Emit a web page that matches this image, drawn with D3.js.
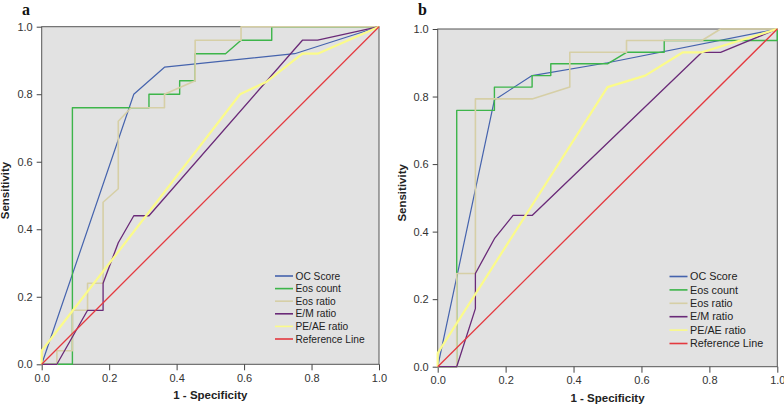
<!DOCTYPE html>
<html>
<head>
<meta charset="utf-8">
<script src="https://cdn.jsdelivr.net/npm/d3@7"></script>
<style>
  body { margin: 0; background: #fff; }
  svg text { font-family: "Liberation Sans", Arial, sans-serif; }
</style>
</head>
<body>
<svg id="chart" width="784" height="406"></svg>
<script>
// tick values shared by both panels
const tickValues = [0, 0.2, 0.4, 0.6, 0.8, 1.0];
const seriesNames = ['OC Score', 'Eos count', 'Eos ratio', 'E/M ratio', 'PE/AE ratio', 'Reference Line'];
const seriesColors = ['#4563ad', '#3db54a', '#d6cfa6', '#6a2a78', '#fbfb8a', '#e4393f'];
const seriesWidths = [1.2, 1.4, 1.6, 1.3, 2.2, 1.3];

// panel a: [1 - specificity, sensitivity]
const aOcScore = [[0, 0], [0.273, 0.80], [0.364, 0.88], [0.75, 0.92], [1, 1]];
const aEosCount = [[0, 0], [0.091, 0], [0.091, 0.76], [0.318, 0.76], [0.318, 0.80], [0.409, 0.80], [0.409, 0.84],
  [0.455, 0.84], [0.455, 0.92], [0.545, 0.92], [0.591, 0.96], [0.682, 0.96], [0.682, 1], [1, 1]];
const aEosRatio = [[0, 0], [0.045, 0], [0.045, 0.04], [0.091, 0.04], [0.091, 0.16], [0.136, 0.16], [0.136, 0.24],
  [0.182, 0.24], [0.182, 0.48], [0.227, 0.52], [0.227, 0.72], [0.265, 0.76], [0.364, 0.76], [0.364, 0.80],
  [0.455, 0.84], [0.455, 0.96], [0.591, 0.96], [0.591, 1], [1, 1]];
const aEmRatio = [[0, 0], [0.045, 0], [0.136, 0.16], [0.182, 0.16], [0.182, 0.24], [0.227, 0.36], [0.273, 0.44],
  [0.318, 0.44], [0.773, 0.96], [0.818, 0.96], [1, 1]];
const aPeAeRatio = [[0, 0], [0, 0.04], [0.588, 0.80], [0.667, 0.837], [0.773, 0.92], [0.818, 0.92], [1, 1]];
const aReference = [[0, 0], [1, 1]];

// panel b
const bOcScore = [[0, 0], [0.167, 0.79], [0.278, 0.862], [0.5, 0.9], [1, 1]];
const bEosCount = [[0, 0], [0.056, 0], [0.056, 0.759], [0.167, 0.759], [0.167, 0.828], [0.278, 0.828], [0.278, 0.862],
  [0.333, 0.862], [0.333, 0.897], [0.5, 0.897], [0.556, 0.931], [0.667, 0.931], [0.667, 0.966], [1, 0.966], [1, 1]];
const bEosRatio = [[0, 0], [0.056, 0], [0.056, 0.276], [0.111, 0.276], [0.111, 0.793], [0.278, 0.793], [0.389, 0.828],
  [0.389, 0.931], [0.556, 0.931], [0.556, 0.966], [0.778, 0.966], [0.833, 1], [1, 1]];
const bEmRatio = [[0, 0], [0.056, 0], [0.111, 0.172], [0.111, 0.276], [0.167, 0.379], [0.222, 0.448], [0.278, 0.448],
  [0.778, 0.931], [0.833, 0.931], [1, 1]];
const bPeAeRatio = [[0, 0], [0, 0.04], [0.5, 0.828], [0.611, 0.862], [0.722, 0.931], [0.778, 0.931], [1, 1]];
const bReference = [[0, 0], [1, 1]];

const svg = d3.select('#chart');

function drawPanel(opts) {
  const x = d3.scaleLinear().domain([0, 1]).range([opts.left, opts.right]);
  const y = d3.scaleLinear().domain([0, 1]).range([opts.bottom, opts.top]);
  const g = svg.append('g');

  g.append('rect')
    .attr('x', opts.left)
    .attr('y', opts.top)
    .attr('width', opts.right - opts.left)
    .attr('height', opts.bottom - opts.top)
    .attr('fill', '#e2e2e2')
    .attr('stroke', '#555')
    .attr('stroke-width', 1);

  const fmt = d3.format('.1f');

  const xAxis = g.append('g')
    .attr('transform', 'translate(0,' + opts.bottom + ')')
    .call(d3.axisBottom(x).tickValues(tickValues).tickFormat(fmt).tickSize(6).tickSizeOuter(0).tickPadding(4));
  const yAxis = g.append('g')
    .attr('transform', 'translate(' + opts.left + ',0)')
    .call(d3.axisLeft(y).tickValues(tickValues).tickFormat(fmt).tickSize(5).tickSizeOuter(0).tickPadding(4));

  [xAxis, yAxis].forEach(function (a) {
    a.select('.domain').remove();
    a.selectAll('line').attr('stroke', '#444');
    a.selectAll('text')
      .attr('fill', '#333')
      .style('font-size', '11px')
      .style('font-family', '"Liberation Sans", Arial, sans-serif');
  });

  const line = d3.line()
    .x(function (d) { return x(d[0]); })
    .y(function (d) { return y(d[1]); });

  opts.series.forEach(function (s, i) {
    g.append('path')
      .datum(s)
      .attr('d', line)
      .attr('fill', 'none')
      .attr('stroke', seriesColors[i])
      .attr('stroke-width', seriesWidths[i])
      .attr('stroke-linejoin', 'round');
  });

  // legend
  const legendItems = g.selectAll('.legend')
    .data(seriesNames)
    .enter()
    .append('g')
    .attr('class', 'legend')
    .attr('transform', function (d, i) {
      return 'translate(' + opts.legendX + ',' + (opts.legendY + i * opts.legendStep) + ')';
    });

  legendItems.append('line')
    .attr('x1', 0)
    .attr('x2', 18)
    .attr('y1', 0)
    .attr('y2', 0)
    .attr('stroke', function (d, i) { return seriesColors[i]; })
    .attr('stroke-width', 1.6);

  legendItems.append('text')
    .attr('x', 20.5)
    .attr('y', 0)
    .attr('dy', '0.35em')
    .attr('fill', '#222')
    .style('font-size', opts.legendFont + 'px')
    .text(function (d) { return d; });

  // axis titles
  g.append('text')
    .attr('x', (opts.left + opts.right) / 2)
    .attr('y', opts.bottom + 35)
    .attr('text-anchor', 'middle')
    .attr('fill', '#222')
    .style('font-size', '11.5px')
    .style('font-weight', 'bold')
    .text('1 - Specificity');

  g.append('text')
    .attr('transform', 'translate(' + opts.yTitleX + ',' + ((opts.top + opts.bottom) / 2 - 5) + ') rotate(-90)')
    .attr('text-anchor', 'middle')
    .attr('fill', '#222')
    .style('font-size', '11.5px')
    .style('font-weight', 'bold')
    .text('Sensitivity');

  g.append('text')
    .attr('x', opts.labelX)
    .attr('y', 14.5)
    .attr('fill', '#111')
    .style('font-family', '"Liberation Serif", "DejaVu Serif", serif')
    .style('font-size', '16px')
    .style('font-weight', 'bold')
    .text(opts.label);
}

drawPanel({
  label: 'a', labelX: 22,
  left: 41.7, right: 379, top: 26.7, bottom: 364.3,
  yTitleX: 9,
  legendX: 275, legendY: 276, legendStep: 12.6, legendFont: 10.2,
  series: [aOcScore, aEosCount, aEosRatio, aEmRatio, aPeAeRatio, aReference]
});

drawPanel({
  label: 'b', labelX: 418,
  left: 437.7, right: 777.3, top: 29, bottom: 366.7,
  yTitleX: 406,
  legendX: 669.5, legendY: 276.5, legendStep: 13.4, legendFont: 10.8,
  series: [bOcScore, bEosCount, bEosRatio, bEmRatio, bPeAeRatio, bReference]
});
</script>
</body>
</html>
